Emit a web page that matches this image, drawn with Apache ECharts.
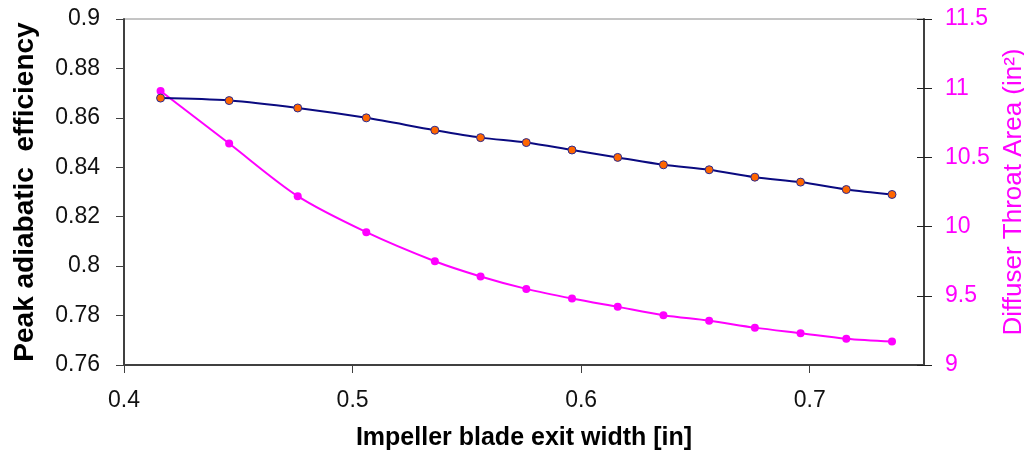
<!DOCTYPE html>
<html>
<head>
<meta charset="utf-8">
<script src="https://cdn.jsdelivr.net/npm/echarts@6/dist/echarts.min.js"></script>
<style>html,body{margin:0;padding:0;background:#fff}#c{width:1024px;height:453px}</style>
</head>
<body>
<div id="c"></div>
<script>
const widths = [0.416, 0.446, 0.476, 0.506, 0.536, 0.556, 0.576, 0.596, 0.616, 0.636, 0.656, 0.676, 0.696, 0.716, 0.736];
const efficiency = [0.868, 0.867, 0.864, 0.860, 0.855, 0.852, 0.850, 0.847, 0.844, 0.841, 0.839, 0.836, 0.834, 0.831, 0.829];
const throatArea = [10.98, 10.60, 10.22, 9.96, 9.75, 9.64, 9.55, 9.48, 9.42, 9.36, 9.32, 9.27, 9.23, 9.19, 9.17];
const xTicks = [0.4, 0.5, 0.6, 0.7];

const font = 'Arial, "Liberation Sans", sans-serif';
const chart = echarts.init(document.getElementById('c'), null, {renderer: 'canvas'});
chart.setOption({
  animation: false,
  grid: {left: 124, right: 100, top: 19, bottom: 88, show: true, borderColor: '#8a8a8a', borderWidth: 1,
         containLabel: false, outerBoundsMode: 'none'},
  xAxis: {
    type: 'value', min: 0.4, max: 0.75, interval: 0.1,
    name: 'Impeller blade exit width [in]', nameLocation: 'middle', nameGap: 61,
    nameTextStyle: {fontFamily: font, fontSize: 25, fontWeight: 'bold', color: '#000'},
    axisLine: {show: true, lineStyle: {color: '#404040', width: 2}},
    axisTick: {show: true, length: 8, customValues: xTicks, lineStyle: {color: '#404040', width: 1}},
    axisLabel: {fontFamily: font, fontSize: 23, color: '#111', margin: 24, customValues: xTicks},
    splitLine: {show: false}
  },
  yAxis: [{
    type: 'value', min: 0.76, max: 0.9, interval: 0.02, position: 'left',
    name: 'Peak adiabatic  efficiency', nameLocation: 'middle', nameGap: 85, nameRotate: 90,
    nameTextStyle: {fontFamily: font, fontSize: 28, fontWeight: 'bold', color: '#000'},
    axisLine: {show: true, lineStyle: {color: '#404040', width: 2}},
    axisTick: {show: true, length: 8, lineStyle: {color: '#404040', width: 1}},
    axisLabel: {fontFamily: font, fontSize: 23, color: '#111', margin: 24},
    splitLine: {show: false}
  }, {
    type: 'value', min: 9, max: 11.5, interval: 0.5, position: 'right',
    name: 'Diffuser Throat Area (in\u00B2)', nameLocation: 'middle', nameGap: 75, nameRotate: 90,
    nameTextStyle: {fontFamily: font, fontSize: 26, color: '#FF00FF'},
    axisLine: {show: true, lineStyle: {color: '#404040', width: 2}},
    axisTick: {show: true, length: 8, lineStyle: {color: '#202020', width: 1}},
    axisLabel: {fontFamily: font, fontSize: 23, color: '#FF00FF', margin: 21},
    splitLine: {show: false}
  }, {
    type: 'value', min: 9, max: 11.5, interval: 0.5, position: 'right',
    axisLine: {show: false},
    axisTick: {show: true, inside: true, length: 7, lineStyle: {color: '#202020', width: 1}},
    axisLabel: {show: false},
    splitLine: {show: false}
  }],
  series: [{
    name: 'Peak adiabatic efficiency', type: 'line', yAxisIndex: 0, smooth: 0.3,
    data: widths.map((w, i) => [w, efficiency[i]]),
    symbol: 'circle', symbolSize: 8,
    lineStyle: {color: '#0A0A80', width: 2},
    itemStyle: {color: '#FF6600', borderColor: '#2A2A90', borderWidth: 1},
    z: 3
  }, {
    name: 'Diffuser Throat Area', type: 'line', yAxisIndex: 1, smooth: 0.3,
    data: widths.map((w, i) => [w, throatArea[i]]),
    symbol: 'circle', symbolSize: 8,
    lineStyle: {color: '#FF00FF', width: 2},
    itemStyle: {color: '#FF00FF', borderColor: '#FF00FF', borderWidth: 0},
    z: 2
  }]
});
</script>
</body>
</html>
